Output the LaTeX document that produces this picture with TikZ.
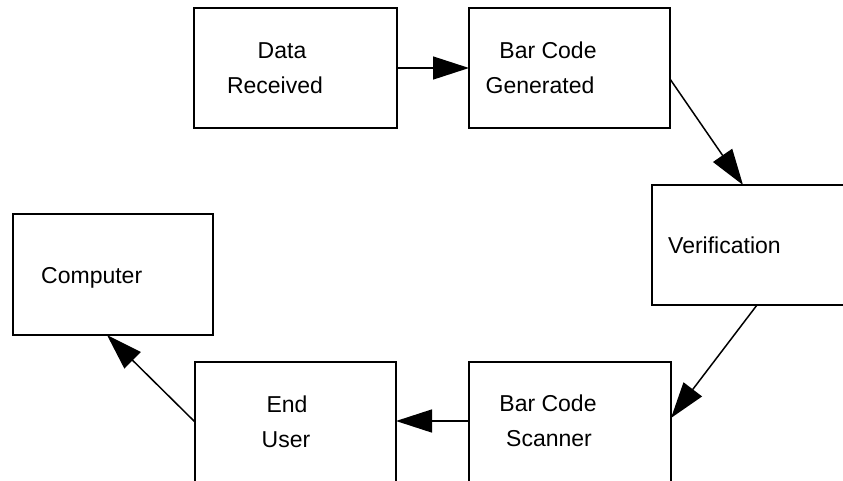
\documentclass[tikz,border=0pt]{standalone}
\usepackage{fontspec}
\setmainfont{Liberation Sans}
\usetikzlibrary{arrows.meta}
\begin{document}
\begin{tikzpicture}[x=1pt,y=-1pt,
  box/.style={draw, line width=1.5pt, inner sep=0pt, outer sep=0pt, anchor=north west},
  txt/.style={inner sep=0pt, anchor=base, font=\fontsize{23}{27}\selectfont},
  conn/.style={line width=1.5pt, -{Triangle[length=36pt,width=23pt]}}]
\useasboundingbox (0,0) rectangle (843,480);
% boxes
\node[box, minimum width=203pt, minimum height=120pt] (dr) at (194,8) {};
\node[box, minimum width=201pt, minimum height=120pt] (bg) at (469,8) {};
\node[box, minimum width=203pt, minimum height=120pt] (ver) at (652,185) {};
\node[box, minimum width=200pt, minimum height=121pt] (comp) at (13,214) {};
\node[box, minimum width=201pt, minimum height=125pt] (eu) at (195,362) {};
\node[box, minimum width=202pt, minimum height=125pt] (bs) at (469,362) {};
% texts
\node[txt] (drt1) at (282,58) {Data};
\node[txt] (drt2) at (275,93) {Received};
\node[txt] (bgt1) at (548,58) {Bar Code};
\node[txt] (bgt2) at (540,93) {Generated};
\node[txt, anchor=base west] (vert) at (668,253) {Verification};
\node[txt, anchor=base west] (compt) at (41,283) {Computer};
\node[txt] (eut1) at (287,412) {End};
\node[txt] (eut2) at (286,447) {User};
\node[txt] (bst1) at (548,411) {Bar Code};
\node[txt] (bst2) at (549,446) {Scanner};
% connectors
\draw[conn] (dr.east) -- (bg.west);
\draw[conn] ([yshift=-11pt]bg.east) -- ([xshift=91pt]ver.north west);
\draw[conn] ([xshift=105pt]ver.south west) -- ([yshift=-56pt]bs.north east);
\draw[conn] ([yshift=-59pt]bs.north west) -- ([yshift=-59pt]eu.north east);
\draw[conn] ([yshift=-60pt]eu.north west) -- ([xshift=94pt]comp.south west);
\end{tikzpicture}
\end{document}
